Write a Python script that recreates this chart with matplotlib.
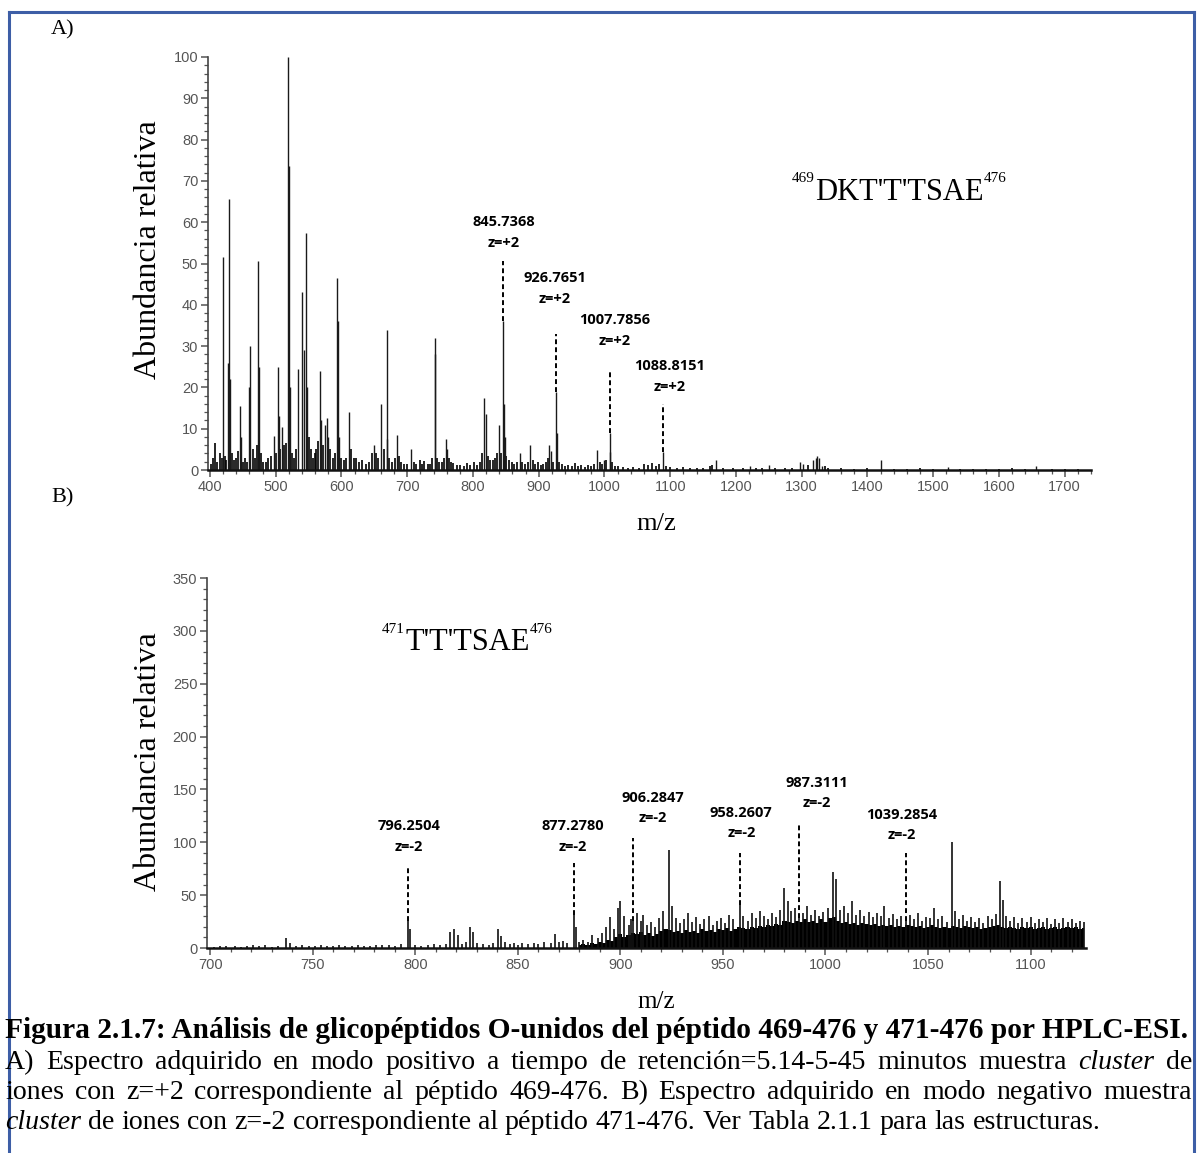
import numpy as np
import matplotlib
matplotlib.use("Agg")
import matplotlib.pyplot as plt
from matplotlib.ticker import MultipleLocator
from matplotlib.lines import Line2D

# ---------------- data: panel A (positive mode) ----------------
A_peak_mz = [420.0, 427.0, 429.5, 431.0, 445.5, 447.0, 459.5, 461.5, 473.5, 475.0,
             497.0, 503.5, 505.0, 509.5, 519.0, 520.0, 522.0, 534.5, 540.5, 543.5,
             546.5, 548.0, 567.5, 569.0, 575.0, 578.0, 580.0, 593.5, 595.0, 597.0,
             611.5, 649.0, 660.0, 668.5, 670.0, 684.0, 705.0, 741.5, 743.0, 759.0,
             761.0, 816.5, 819.5, 840.0, 845.7, 847.0, 848.5, 871.0, 887.0, 916.0,
             918.0, 926.8, 928.0, 989.0, 1000.0, 1007.8, 1009.0, 1088.8, 1169.0, 1222.0,
             1251.0, 1297.0, 1302.0, 1317.0, 1321.0, 1324.0, 1327.0, 1331.0, 1421.0, 1522.0,
             1657.0]
A_peak_int = [51.5, 26.0, 65.5, 22.0, 15.5, 8.0, 20.0, 30.0, 50.5, 25.0,
              8.2, 25.0, 13.0, 10.5, 100.0, 73.5, 20.0, 24.5, 43.0, 29.0,
              57.5, 20.0, 24.0, 12.0, 11.0, 12.5, 8.0, 46.5, 36.0, 8.0,
              14.0, 6.0, 16.0, 34.0, 7.5, 8.5, 5.2, 32.0, 28.0, 7.5,
              5.0, 17.5, 13.5, 11.0, 36.0, 16.0, 8.0, 4.0, 6.0, 6.0,
              4.5, 19.0, 9.0, 4.8, 2.4, 9.0, 4.4, 4.4, 2.4, 1.0,
              1.2, 2.0, 1.5, 2.5, 3.0, 3.4, 3.0, 1.0, 2.4, 0.8,
              1.0]
A_noise_mz = [402, 405, 408, 411, 415, 418, 423, 425, 433, 436, 439, 442, 450, 453, 456,
              465, 468, 471, 478, 481, 485, 489, 493, 500, 507, 512, 515, 525, 528, 531,
              550, 553, 556, 559, 562, 565, 572, 583, 587, 590, 600, 604, 607, 615, 619,
              622, 627, 631, 637, 642, 646, 652, 655, 664, 673, 677, 681, 687, 691, 695,
              700, 710, 714, 719, 723, 726, 731, 735, 738, 746, 749, 753, 756, 764, 767,
              770, 775, 780, 786, 791, 796, 801, 806, 810, 813, 823, 826, 830, 833, 836,
              843, 851, 855, 859, 863, 867, 875, 879, 883, 891, 895, 899, 903, 907, 911,
              914, 921, 931, 935, 940, 945, 950, 955, 960, 965, 970, 975, 980, 984, 993,
              996, 1003, 1012, 1016, 1021, 1028, 1036, 1044, 1052, 1060, 1066, 1072, 1078, 1083, 1093,
              1100, 1110, 1120, 1130, 1140, 1150, 1160, 1163, 1180, 1195, 1210, 1230, 1240, 1260, 1275,
              1285, 1310, 1335, 1340, 1360, 1380, 1400, 1440, 1460, 1480, 1500, 1540, 1560, 1580, 1600,
              1620, 1640, 1680, 1700, 1720]
A_noise_int = [1.5, 3, 6.5, 2, 4, 3, 3.5, 2.5, 4, 2.5, 3, 4.5, 2, 3, 2,
               5, 3, 6, 4, 2, 2, 2.8, 3.5, 4, 5, 6, 6.5, 4, 3, 5,
               8, 5, 3, 4, 5, 7, 6, 5, 3, 4, 3, 2.5, 3, 5, 3,
               3, 2, 2.5, 1.5, 2, 4, 4, 3, 5, 3, 2, 3, 3.5, 2, 1.5,
               1.5, 2, 1.5, 2.4, 1.5, 2.3, 1.5, 1.5, 3, 3, 2, 2, 3, 3, 2,
               1.8, 1.2, 1.2, 1, 1.8, 1.2, 2, 1.2, 2, 4, 3.5, 2.5, 2.5, 3, 4,
               4, 3.5, 2.5, 2, 1.5, 2, 2, 1.5, 2, 2.5, 1.5, 2, 1.2, 1.5, 2,
               3, 2, 2, 1.5, 1, 1.2, 1, 1.8, 1, 1.2, 0.8, 1.2, 1, 1.5, 2,
               1.5, 2.5, 2, 1, 1, 0.8, 0.6, 0.8, 0.6, 1.5, 1.2, 1.8, 1, 1.5, 1,
               0.8, 0.6, 0.8, 0.5, 0.6, 0.5, 1, 1.2, 0.5, 0.6, 0.5, 0.5, 0.4, 0.5, 0.4,
               0.6, 1.2, 1, 0.6, 0.4, 0.3, 0.4, 0.3, 0.3, 0.4, 0.3, 0.3, 0.3, 0.3, 0.3,
               0.4, 0.3, 0.3, 0.3, 0.3]
A_ann_mz = [845.7368, 926.7651, 1007.7856, 1088.8151]
A_ann_lbl = ["845.7368", "926.7651", "1007.7856", "1088.8151"]
A_ann_z = ["z=+2", "z=+2", "z=+2", "z=+2"]
A_ann_top = [50.5, 33.0, 23.7, 16.0]
A_ann_bot = [36.0, 19.0, 9.0, 4.4]
A_xticks = [400, 500, 600, 700, 800, 900, 1000, 1100, 1200, 1300, 1400, 1500, 1600, 1700]
A_yticks = [0, 10, 20, 30, 40, 50, 60, 70, 80, 90, 100]

# ---------------- data: panel B (negative mode) ----------------
B_peak_mz = [702, 705, 708, 712, 715, 718, 721, 724, 727, 730, 733, 737, 739, 742, 745,
             748, 751, 754, 757, 760, 763, 766, 769, 772, 775, 778, 781, 784, 787, 790,
             793, 796.25, 797.5, 800, 803, 806, 809, 812, 815, 817, 819, 821, 823, 825, 826.5,
             828, 830, 833, 836, 838, 840.5, 842, 844, 846, 848, 850, 852, 855, 858, 860,
             863, 866, 868, 870, 872, 874, 877.3, 878.5, 880, 882, 884,
             886, 889, 891, 893, 895, 897, 899, 900, 902, 904, 905, 906.3, 908, 910, 911,
             913, 915, 917, 919, 921, 923.5, 925, 927, 929, 931, 933, 935, 937, 939, 941,
             943, 945, 947, 949, 951, 953, 955, 958.3, 960, 962, 964, 966, 968, 970, 972,
             974, 976, 978, 980, 981.5, 983, 985, 987.3, 989, 991, 993, 995, 997, 999, 1001,
             1003.5, 1005, 1007, 1009, 1011, 1012.7, 1015, 1017, 1019, 1021, 1023, 1025, 1027, 1028.6, 1031,
             1033, 1035, 1037, 1039.3, 1041, 1043, 1045, 1047, 1049, 1051, 1052.7, 1055, 1057, 1059, 1061.5,
             1063, 1065, 1067, 1069, 1071, 1073, 1075, 1077, 1079, 1081, 1083, 1085, 1086.5, 1088, 1090,
             1092, 1094, 1096, 1098, 1100, 1102, 1104, 1106, 1108, 1110, 1112, 1114, 1116, 1118, 1120,
             1122, 1124, 1126]
B_peak_int = [1, 2, 1.5, 2, 1, 2, 2.5, 1.5, 2.5, 1, 2, 9.5, 5, 2, 2.5,
              1.5, 2, 2.5, 1.5, 2, 2.5, 1.5, 2, 2.5, 1.5, 2, 3, 2.5, 3, 2,
              4, 26, 18, 3, 2, 3, 3.5, 2.5, 4, 15, 18, 12, 4, 6, 20,
              15, 5, 4, 3, 5, 18, 11, 6, 4, 5, 3, 5, 4, 5, 4,
              6, 5, 13, 6, 7, 5, 31, 20, 6, 8, 6,
              12, 9, 14, 20, 29, 18, 38, 44, 30, 22, 27, 26, 33, 26, 31,
              22, 25, 20, 28, 35, 93, 40, 28, 24, 27, 33, 25, 29, 23, 27,
              30, 22, 26, 28, 24, 31, 27, 41, 30, 26, 33, 28, 35, 30, 27,
              33, 29, 36, 57, 44, 35, 38, 28, 33, 40, 31, 36, 30, 34, 38,
              72, 65, 36, 40, 33, 44, 31, 36, 30, 34, 29, 33, 30, 40, 28,
              32, 27, 30, 26, 31, 27, 33, 26, 29, 28, 38, 27, 30, 25, 100,
              35, 27, 31, 26, 29, 25, 28, 24, 30, 27, 32, 63, 45, 30, 26,
              29, 24, 28, 25, 29, 24, 27, 25, 28, 23, 27, 24, 28, 25, 27,
              24, 26, 25]
# dense unresolved signal above ~880 m/z (2-unit sampling from 880)
B_dense_start, B_dense_step = 880, 2
B_dense_int = [3, 4, 3, 5, 4, 6, 5, 8, 7, 10,
               13, 10, 12, 14, 13, 15, 12, 14, 11, 13,
               16, 18, 17, 15, 16, 14, 17, 15, 16, 14,
               18, 16, 17, 15, 18, 17, 19, 16, 18, 20,
               19, 18, 20, 19, 21, 20, 22, 21, 23, 22,
               26, 25, 24, 26, 25, 27, 25, 26, 24, 27,
               25, 28, 29, 26, 24, 25, 23, 24, 22, 24,
               23, 22, 23, 21, 22, 21, 22, 20, 21, 20,
               22, 21, 20, 21, 19, 20, 22, 20, 19, 20,
               19, 21, 20, 19, 21, 20, 19, 20, 18, 19,
               20, 21, 22, 20, 19, 20, 19, 18, 20, 19,
               20, 18, 19, 20, 18, 19, 20, 18, 19, 20,
               19, 20, 18, 19]
B_ann_mz = [796.2504, 877.2780, 906.2847, 958.2607, 987.3111, 1039.2854]
B_ann_lbl = ["796.2504", "877.2780", "906.2847", "958.2607", "987.3111", "1039.2854"]
B_ann_z = ["z=-2", "z=-2", "z=-2", "z=-2", "z=-2", "z=-2"]
B_ann_top = [78, 80, 104, 90, 118, 90]
B_ann_bot = [26, 31, 26, 41, 28, 26]
B_xticks = [700, 750, 800, 850, 900, 950, 1000, 1050, 1100]
B_yticks = [0, 50, 100, 150, 200, 250, 300, 350]

# ---------------- layout helpers ----------------
W, H = 1197, 1153
fig = plt.figure(figsize=(W / 100, H / 100), dpi=100)


def fx(px):
    return px / W


def fy(py):
    return 1 - py / H


SERIF = ["Liberation Serif", "DejaVu Serif"]
TICKF = ["Liberation Sans Narrow", "Liberation Sans", "DejaVu Sans"]
ANNF = ["Open Sans", "Liberation Sans", "DejaVu Sans"]


def style_axes(ax, xmaj, xmin, ymaj, ymin):
    for s in ("top", "right"):
        ax.spines[s].set_visible(False)
    ax.spines["left"].set_color("#444444")
    ax.spines["left"].set_linewidth(1.2)
    ax.spines["bottom"].set_color("#111111")
    ax.spines["bottom"].set_linewidth(1.8)
    ax.xaxis.set_major_locator(MultipleLocator(xmaj))
    ax.xaxis.set_minor_locator(MultipleLocator(xmin))
    ax.yaxis.set_major_locator(MultipleLocator(ymaj))
    ax.yaxis.set_minor_locator(MultipleLocator(ymin))
    ax.tick_params(which="major", direction="out", length=5, width=1.1, color="#555555",
                   labelcolor="#555555", labelsize=10.5, pad=2)
    ax.tick_params(which="minor", direction="out", length=3, width=0.9, color="#555555")
    for lab in ax.get_xticklabels() + ax.get_yticklabels():
        lab.set_family(TICKF)
    ax.patch.set_alpha(0)


# ---------------- panel A ----------------
axA = fig.add_axes([fx(208), fy(470), fx(1091) - fx(208), fy(57) - fy(470)])
axA.set_xlim(397, 1740)
axA.set_ylim(0, 100)
axA.vlines(A_noise_mz, 0, A_noise_int, color="black", lw=1.2)
axA.vlines(A_peak_mz, 0, A_peak_int, color="#1a1a1a", lw=1.0)
style_axes(axA, 100, 20, 10, 2)
axA.set_xticks(A_xticks)
axA.set_yticks(A_yticks)

A_lab_x = [847, 925, 1015, 1099]
A_lab_y = [60.0, 46.5, 36.3, 25.2]
for m, lbl, z, t, b, lx, ly in zip(A_ann_mz, A_ann_lbl, A_ann_z, A_ann_top, A_ann_bot, A_lab_x, A_lab_y):
    axA.plot([m, m], [b, t], color="black", lw=1.4, ls=(0, (2.5, 1.6)))
    axA.text(lx, ly, lbl, ha="center", va="center", fontsize=10.5, fontweight="bold", family=ANNF)
    axA.text(lx, ly - 5.0, z, ha="center", va="center", fontsize=10.5, fontweight="bold", family=ANNF)

# ---------------- panel B ----------------
axB = fig.add_axes([fx(207), fy(948), fx(1086) - fx(207), fy(578) - fy(948)])
axB.set_xlim(698.5, 1127)
axB.set_ylim(0, 350)
dense_x = np.arange(len(B_dense_int)) * B_dense_step + B_dense_start
axB.fill_between(dense_x, 0, B_dense_int, step="mid", color="black", lw=0)
axB.vlines(B_peak_mz, 0, B_peak_int, color="#111111", lw=1.2)
style_axes(axB, 50, 10, 50, 10)
axB.set_xticks(B_xticks)
axB.set_yticks(B_yticks)

B_lab_x = [797, 877, 916, 959, 996, 1037]
B_lab_y = [115, 115, 142, 128, 156, 126]
for m, lbl, z, t, b, lx, ly in zip(B_ann_mz, B_ann_lbl, B_ann_z, B_ann_top, B_ann_bot, B_lab_x, B_lab_y):
    axB.plot([m, m], [b, t], color="black", lw=1.4, ls=(0, (2.5, 1.6)))
    axB.text(lx, ly, lbl, ha="center", va="center", fontsize=10.5, fontweight="bold", family=ANNF)
    axB.text(lx, ly - 19, z, ha="center", va="center", fontsize=10.5, fontweight="bold", family=ANNF)

# ---------------- figure texts ----------------
fig.text(fx(63), fy(30), "A)", fontsize=16, family=SERIF, ha="center", va="center")
fig.text(fx(63), fy(498), "B)", fontsize=16, family=SERIF, ha="center", va="center")
fig.text(fx(148), fy(250), "Abundancia relativa", rotation=90, fontsize=23, family=SERIF,
         ha="center", va="center")
fig.text(fx(148), fy(762), "Abundancia relativa", rotation=90, fontsize=23, family=SERIF,
         ha="center", va="center")
fig.text(fx(656), fy(524), "m/z", fontsize=19, family=SERIF, ha="center", va="center")
fig.text(fx(656), fy(1002), "m/z", fontsize=18, family=SERIF, ha="center", va="center")

# peptide sequences
pA = fig.text(fx(815), fy(192), "DKT'T'TSAE", fontsize=22, family=SERIF, ha="left", va="center")
axA.annotate("469", xy=(0, 0.95), xycoords=pA, ha="right", va="center", fontsize=11, family=SERIF)
axA.annotate("476", xy=(1, 0.95), xycoords=pA, ha="left", va="center", fontsize=11, family=SERIF)
pB = fig.text(fx(405), fy(643), "T'T'TSAE", fontsize=22, family=SERIF, ha="left", va="center")
axB.annotate("471", xy=(0, 0.95), xycoords=pB, ha="right", va="center", fontsize=11, family=SERIF)
axB.annotate("476", xy=(1, 0.95), xycoords=pB, ha="left", va="center", fontsize=11, family=SERIF)

# ---------------- caption (justified) ----------------
renderer = fig.canvas.get_renderer()


def wwidth(s, **kw):
    t = fig.text(0, 0, s, **kw)
    w = t.get_window_extent(renderer).width
    t.remove()
    return w


cap_title = "Figura 2.1.7: Análisis de glicopéptidos O-unidos del péptido 469-476 y 471-476 por HPLC-ESI."
L, R = 5, 1192
w0 = wwidth(cap_title, fontsize=16, fontweight="bold", family=SERIF)
fs_title = 16 * (R - L) / w0
fig.text(fx(L), fy(1038), cap_title, fontsize=fs_title, fontweight="bold", family=SERIF,
         ha="left", va="baseline")

cap_lines = [
    [("A)", 0), ("Espectro", 0), ("adquirido", 0), ("en", 0), ("modo", 0), ("positivo", 0), ("a", 0),
     ("tiempo", 0), ("de", 0), ("retención=5.14-5-45", 0), ("minutos", 0), ("muestra", 0),
     ("cluster", 1), ("de", 0)],
    [("iones", 0), ("con", 0), ("z=+2", 0), ("correspondiente", 0), ("al", 0), ("péptido", 0),
     ("469-476.", 0), ("B)", 0), ("Espectro", 0), ("adquirido", 0), ("en", 0), ("modo", 0),
     ("negativo", 0), ("muestra", 0)],
    [("cluster", 1), ("de", 0), ("iones", 0), ("con", 0), ("z=-2", 0), ("correspondiente", 0), ("al", 0),
     ("péptido", 0), ("471-476.", 0), ("Ver", 0), ("Tabla", 0), ("2.1.1", 0), ("para", 0), ("las", 0),
     ("estructuras.", 0)],
]
justify = [True, True, False]
baselines = [1069, 1099, 1129]

fs0 = 15
sp0 = wwidth("a a", fontsize=fs0, family=SERIF) - wwidth("aa", fontsize=fs0, family=SERIF)
nat = []
for words in cap_lines[:2]:
    tot = sum(wwidth(w, fontsize=fs0, family=SERIF, style="italic" if it else "normal") for w, it in words)
    tot += (len(words) - 1) * sp0
    nat.append(tot)
fs_body = fs0 * (R - L) * 0.96 / max(nat)
space = wwidth("a a", fontsize=fs_body, family=SERIF) - wwidth("aa", fontsize=fs_body, family=SERIF)

for words, just, yb in zip(cap_lines, justify, baselines):
    ws = [wwidth(w, fontsize=fs_body, family=SERIF, style="italic" if it else "normal") for w, it in words]
    if just:
        gap = ((R - L) - sum(ws)) / (len(words) - 1)
    else:
        gap = space
    x = L
    for (w, it), wd in zip(words, ws):
        fig.text(fx(x), fy(yb), w, fontsize=fs_body, family=SERIF,
                 style="italic" if it else "normal", ha="left", va="baseline")
        x += wd + gap

# ---------------- blue frame ----------------
fc = "#3d5ea6"
fig.add_artist(Line2D([fx(9), fx(9)], [fy(1160), fy(12)], color=fc, lw=2.2, transform=fig.transFigure))
fig.add_artist(Line2D([fx(9), fx(1194)], [fy(12), fy(12)], color=fc, lw=2.2, transform=fig.transFigure))
fig.add_artist(Line2D([fx(1194), fx(1194)], [fy(12), fy(1160)], color=fc, lw=2.2, transform=fig.transFigure))

fig.savefig("out.png", dpi=100)
